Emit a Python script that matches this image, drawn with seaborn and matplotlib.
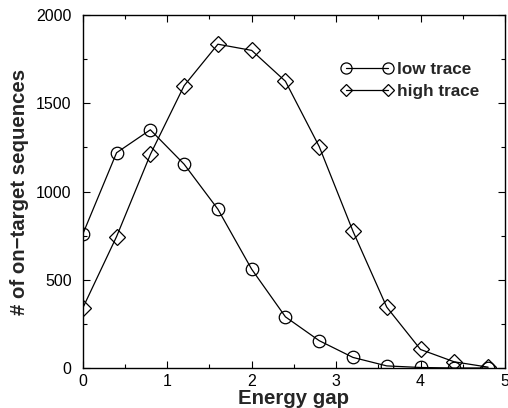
import matplotlib
matplotlib.use("Agg")
import matplotlib.pyplot as plt
import seaborn as sns
import pandas as pd
from matplotlib.ticker import MultipleLocator

energy_gap = [0.0, 0.4, 0.8, 1.2, 1.6, 2.0, 2.4, 2.8, 3.2, 3.6, 4.0, 4.4, 4.8]
low_trace = [759, 1220, 1350, 1155, 900, 560, 290, 155, 60, 12, 3, 0, 0]
high_trace = [340, 745, 1210, 1600, 1835, 1800, 1625, 1255, 775, 345, 105, 35, 5]

sns.set_theme(style="ticks")
plt.rcParams['font.family'] = ['Liberation Sans', 'DejaVu Sans']

fig = plt.figure(figsize=(5.08, 4.08), dpi=100)
ax = fig.add_axes([0.163, 0.098, 0.831, 0.865])

df_low = pd.DataFrame({"x": energy_gap, "y": low_trace})
df_high = pd.DataFrame({"x": energy_gap, "y": high_trace})

sns.lineplot(data=df_low, x="x", y="y", ax=ax, color="black", lw=0.9,
             marker="o", markersize=9, markerfacecolor="none",
             markeredgecolor="black", markeredgewidth=0.9, label="low trace")
sns.lineplot(data=df_high, x="x", y="y", ax=ax, color="black", lw=0.9,
             marker="D", markersize=8, markerfacecolor="none",
             markeredgecolor="black", markeredgewidth=0.9, label="high trace")

ax.set_xlim(0, 5)
ax.set_ylim(0, 2000)
ax.xaxis.set_major_locator(MultipleLocator(1))
ax.xaxis.set_minor_locator(MultipleLocator(0.5))
ax.yaxis.set_major_locator(MultipleLocator(500))
ax.yaxis.set_minor_locator(MultipleLocator(250))
ax.tick_params(which="both", direction="in", top=True, right=True,
               colors="black", labelsize=11.5, width=0.8)
ax.tick_params(which="major", length=5)
ax.tick_params(which="minor", length=3)
ax.tick_params(axis="x", pad=4)
ax.tick_params(axis="y", pad=8)
for s in ax.spines.values():
    s.set_linewidth(1.0)
    s.set_color("black")

ax.set_xlabel("Energy gap", fontsize=14.7, fontweight="bold", labelpad=0)
ax.set_ylabel("# of on\u2212target sequences", fontsize=14.7, fontweight="bold", labelpad=5)

leg = ax.legend(loc="upper left", bbox_to_anchor=(0.611, 0.868), frameon=False,
                numpoints=2, handlelength=3.07, handletextpad=0.25,
                labelspacing=0.4, borderpad=0, borderaxespad=0,
                prop={"weight": "bold", "size": 12.3})
handles = leg.legend_handles
handles[0].set_markersize(8)
handles[1].set_markersize(6.5)

fig.savefig("out.png", dpi=100)
